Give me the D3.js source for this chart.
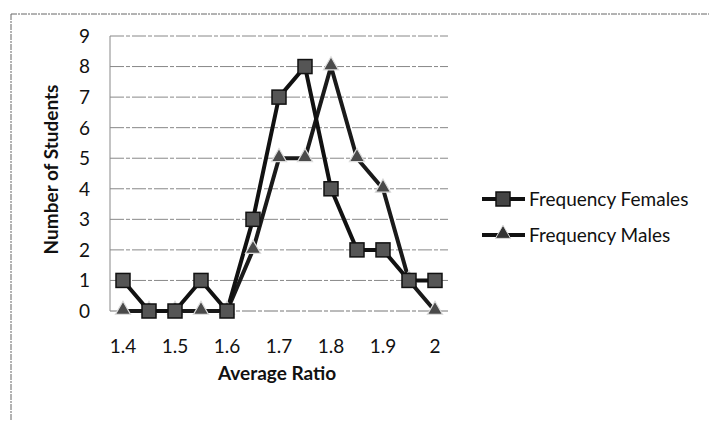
<!DOCTYPE html>
<html><head><meta charset="utf-8">
<script src="https://cdn.jsdelivr.net/npm/d3@7"></script>
<style>body{margin:0;background:#fff}svg{display:block}</style>
</head><body>
<script>
const categories = ["1.4","1.45","1.5","1.55","1.6","1.65","1.7","1.75","1.8","1.85","1.9","1.95","2"];
const tickLabels = ["1.4","1.5","1.6","1.7","1.8","1.9","2"];
const females = [1,0,0,1,0,3,7,8,4,2,2,1,1];
const males   = [0,0,0,0,0,2,5,5,8,5,4,1,0];
const yTicks = [0,1,2,3,4,5,6,7,8,9];
const seriesNames = ["Frequency Females","Frequency Males"];

const W=709,H=421;
const svg=d3.select("body").append("svg").attr("width",W).attr("height",H);
const font="Lato, 'Open Sans', sans-serif";

// outer frame (top & left only visible)
svg.append("line").attr("x1",11).attr("x2",W).attr("y1",14).attr("y2",14).attr("stroke","#666").attr("stroke-width",1).attr("stroke-dasharray","6,1,2,1");
svg.append("line").attr("x1",11).attr("x2",11).attr("y1",14).attr("y2",H).attr("stroke","#666").attr("stroke-width",1).attr("stroke-dasharray","6,1,2,1");

const L=110,R=448,T=36,B=311;
const x=d3.scaleBand().domain(categories).range([L,R]);
const y=d3.scaleLinear().domain([0,9]).range([B,T]);
const cx=d=>x(d)+x.bandwidth()/2;

// gridlines
svg.append("g").selectAll("line").data(yTicks).join("line")
  .attr("x1",L).attr("x2",R).attr("y1",d=>y(d)).attr("y2",d=>y(d))
  .attr("stroke",d=>d===0?"#777":"#888").attr("stroke-width",1).attr("stroke-dasharray","14,2,4,2");
svg.append("line").attr("x1",L).attr("x2",L).attr("y1",T).attr("y2",B).attr("stroke","#888");

// y axis labels
svg.append("g").selectAll("text").data(yTicks).join("text")
  .attr("x",90).attr("y",d=>y(d)).attr("dy","0.36em").attr("text-anchor","end")
  .attr("font-family",font).attr("font-size",19).attr("fill","#111").text(d=>d);
// x axis labels
svg.append("g").selectAll("text").data(tickLabels).join("text")
  .attr("x",d=>cx(d)).attr("y",353).attr("text-anchor","middle")
  .attr("font-family",font).attr("font-size",19).attr("fill","#111").text(d=>d);

svg.append("text").attr("x",(L+R)/2-2).attr("y",380).attr("text-anchor","middle")
  .attr("font-family",font).attr("font-weight","bold").attr("font-size",19).attr("fill","#111").text("Average Ratio");
svg.append("text").attr("transform",`translate(58,${(T+B)/2-4}) rotate(-90)`).attr("text-anchor","middle")
  .attr("font-family",font).attr("font-weight","bold").attr("font-size",19).attr("fill","#111").text("Number of Students");

const line=d3.line().x((d,i)=>cx(categories[i])).y(d=>y(d));
const tri=d3.symbol().type(d3.symbolTriangle).size(100);

svg.append("path").datum(males).attr("d",line).attr("fill","none").attr("stroke","#1a1a1a").attr("stroke-width",4).attr("stroke-linejoin","round");
svg.append("path").datum(females).attr("d",line).attr("fill","none").attr("stroke","#111").attr("stroke-width",4).attr("stroke-linejoin","round");

svg.append("g").selectAll("path").data(males).join("path")
  .attr("d",tri).attr("transform",(d,i)=>`translate(${cx(categories[i])},${y(d)-1})`)
  .attr("fill","#4a4a4a").attr("stroke","#ddd").attr("stroke-width",1.2);
svg.append("g").selectAll("rect").data(females).join("rect")
  .attr("x",(d,i)=>cx(categories[i])-7).attr("y",d=>y(d)-7).attr("width",14).attr("height",14)
  .attr("fill","#555").attr("stroke","#111").attr("stroke-width",1.5);

// legend
const leg=svg.append("g");
const ly=[199,235];
seriesNames.forEach((n,i)=>{
  leg.append("line").attr("x1",482).attr("x2",525).attr("y1",ly[i]).attr("y2",ly[i]).attr("stroke","#111").attr("stroke-width",4);
  if(i===0){
    leg.append("rect").attr("x",496).attr("y",ly[i]-7).attr("width",14).attr("height",14).attr("fill","#444").attr("stroke","#111").attr("stroke-width",1.5);
  } else {
    leg.append("path").attr("d",tri).attr("transform",`translate(503,${ly[i]-1})`).attr("fill","#333").attr("stroke","#ddd").attr("stroke-width",1);
  }
  leg.append("text").attr("x",529).attr("y",ly[i]).attr("dy","0.36em").attr("font-family",font).attr("font-size",19).attr("fill","#111").text(n);
});
</script>
</body></html>
